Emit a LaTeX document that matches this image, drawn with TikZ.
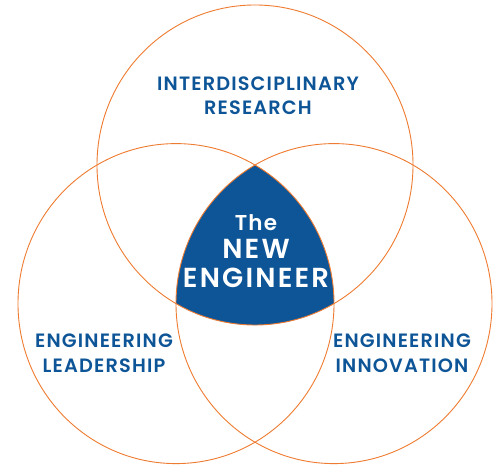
\documentclass[tikz,border=0pt]{standalone}
\usepackage{fontspec}
\newfontfamily\vennfont{Poppins SemiBold}[LetterSpace=6]
\newfontfamily\corefont{Poppins SemiBold}[LetterSpace=8]
\definecolor{vennorange}{HTML}{EE7B30}
\definecolor{vennblue}{HTML}{0D5597}
\tikzset{
  ring/.style={draw=vennorange, line width=0.9pt},
  ringsize/.style={x radius=158, y radius=160},
  areatext/.style={text=vennblue, anchor=base, inner sep=0pt,
    font=\vennfont\fontsize{19.3}{23}\selectfont},
  coretext/.style={text=white, anchor=base, inner sep=0pt,
    font=\corefont\fontsize{27.5}{32}\selectfont},
}

\begin{document}
\begin{tikzpicture}[x=1pt,y=1pt]
		\useasboundingbox (0,0) rectangle (500,465);
		%%%%% START %%%%%
		
		\coordinate (top) at (255,300);
		\coordinate (left) at (176,161.4);
		\coordinate (right) at (334,161.4);
		
		% the shared middle
		\fill[vennblue] (left) arc[ringsize, start angle=240, end angle=300]
			arc[ringsize, start angle=0, end angle=60]
			arc[ringsize, start angle=120, end angle=180] -- cycle;
		
		\draw[ring] (top) circle[ringsize];
		\draw[ring] (left) circle[ringsize];
		\draw[ring] (right) circle[ringsize];
		
		\node[areatext] (research1) at (258,374) {INTERDISCIPLINARY};
		\node[areatext] (research2) at (258,350) {RESEARCH};
		
		\node[areatext] (leader1) at (104,117) {ENGINEERING};
		\node[areatext] (leader2) at (104,92) {LEADERSHIP};
		
		\node[areatext] (innov1) at (402,117) {ENGINEERING};
		\node[areatext] (innov2) at (402,92) {INNOVATION};
		
		\node[coretext, font=\vennfont\fontsize{21.5}{26}\selectfont] (the) at (256,234.3) {The};
		\node[coretext] (new) at (256,206.7) {NEW};
		\node[coretext] (engineer) at (256,177.3) {ENGINEER};
		
		%%%%% END %%%%%
\end{tikzpicture}
\end{document}
